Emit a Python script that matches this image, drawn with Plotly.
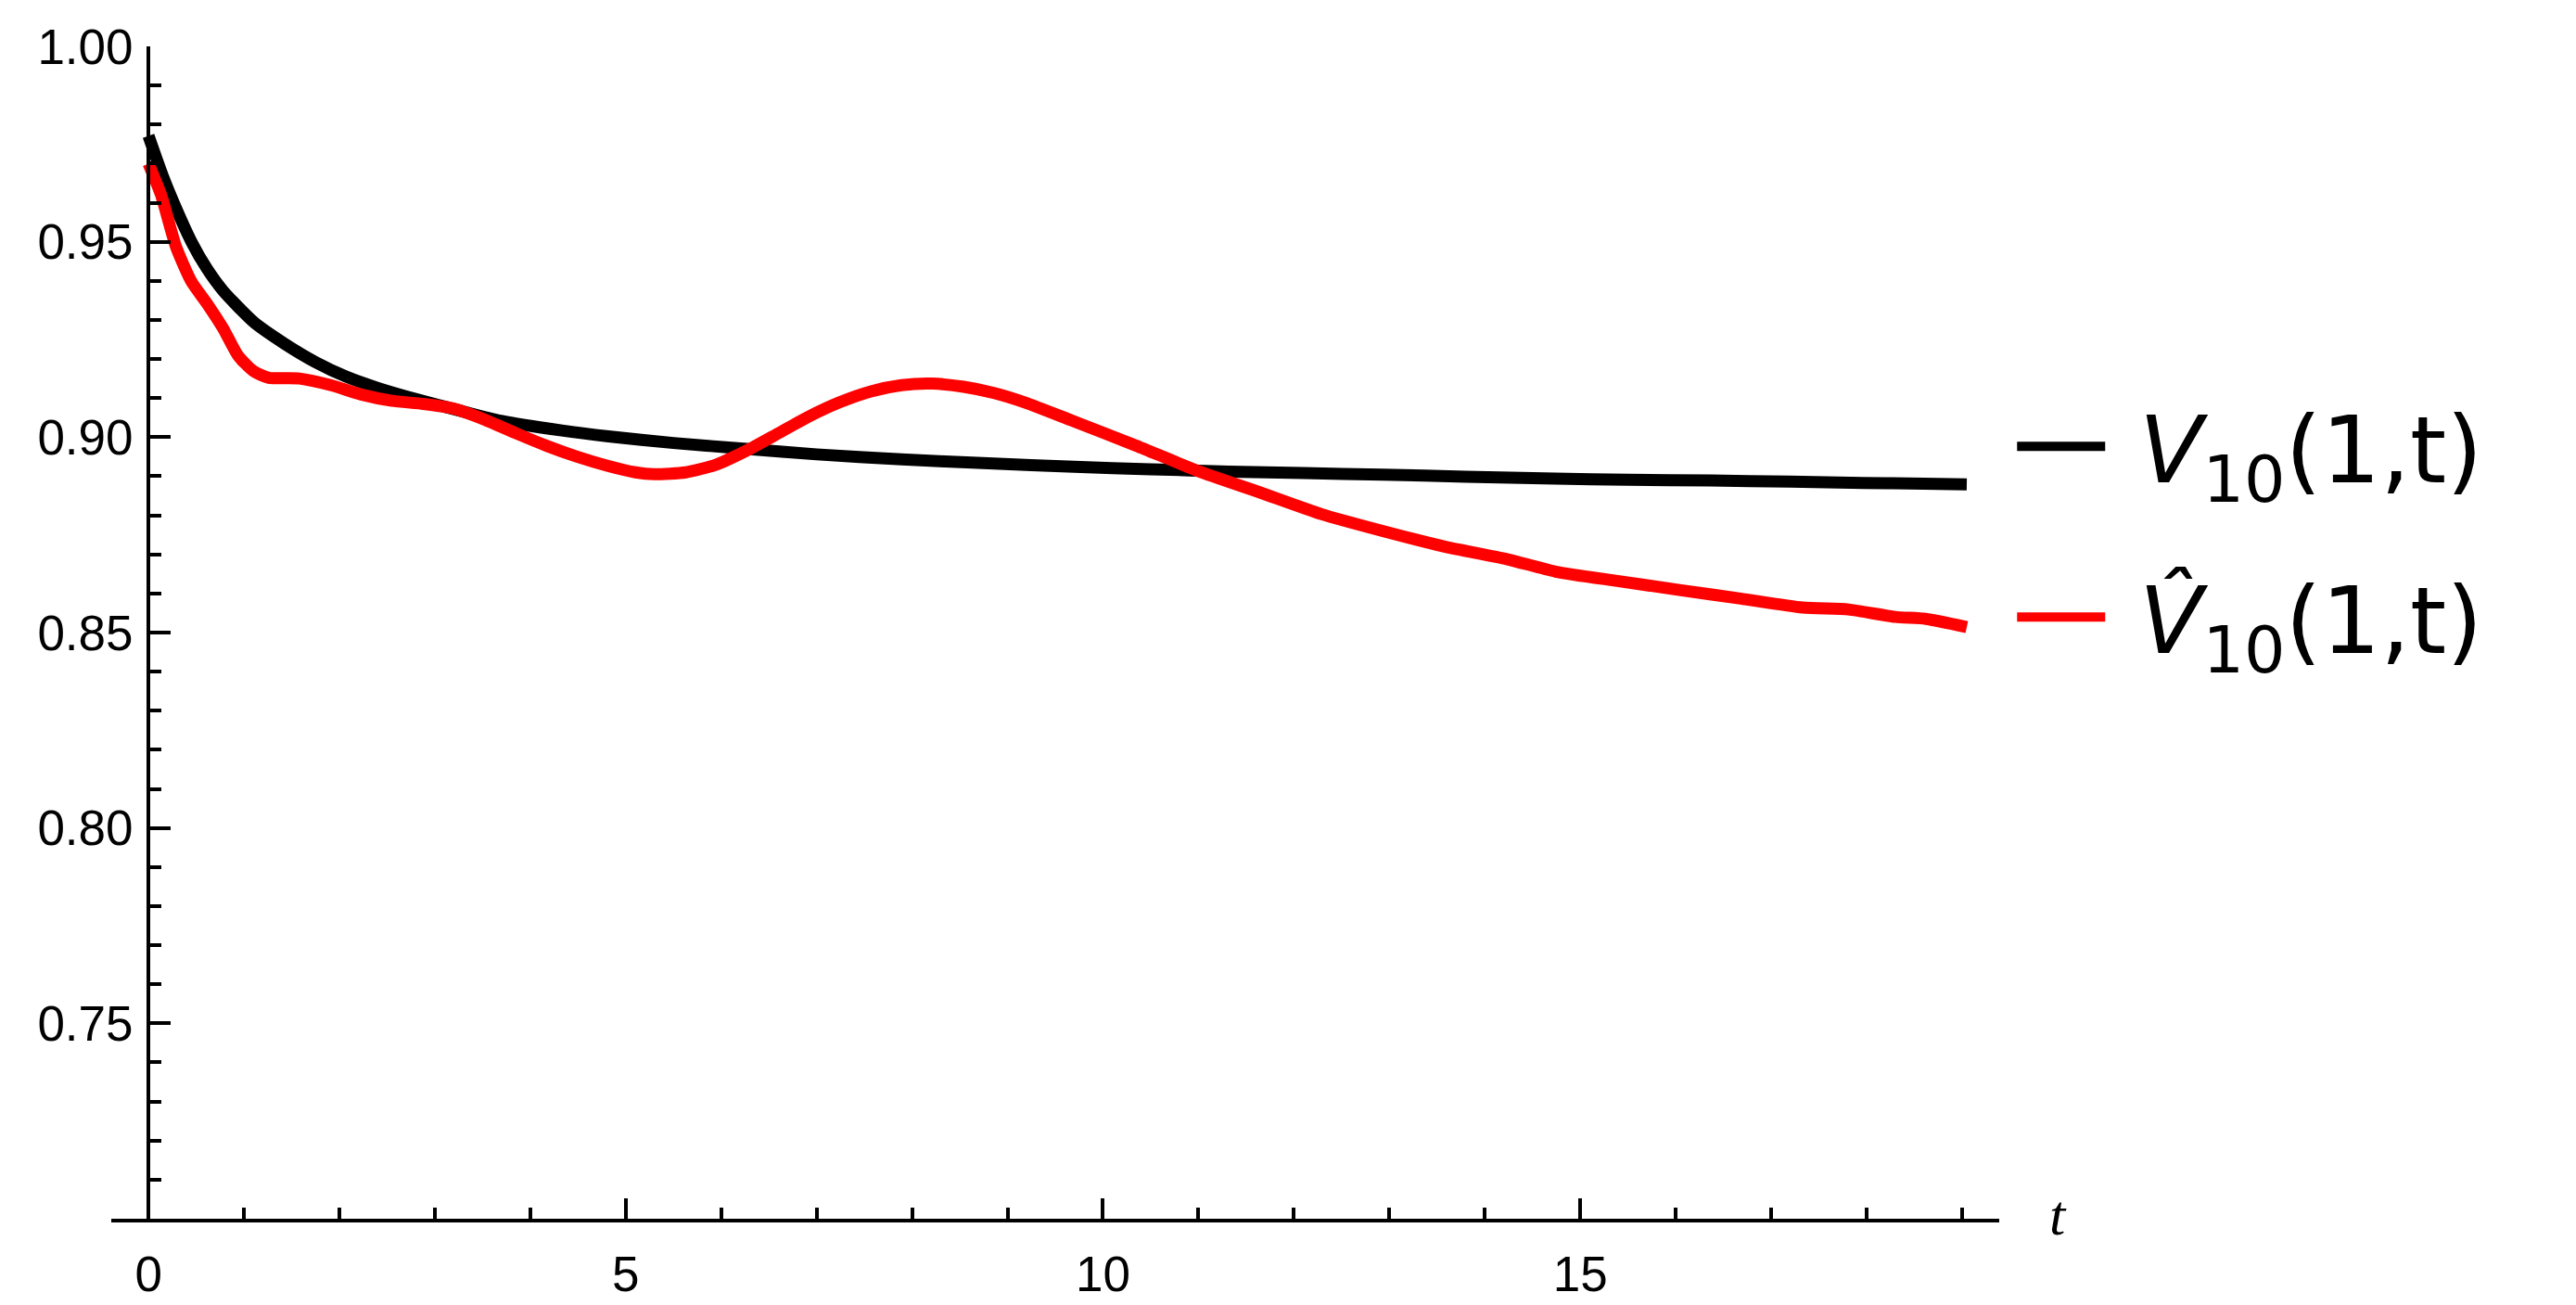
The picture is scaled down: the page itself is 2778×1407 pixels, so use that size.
import plotly.graph_objects as go

# ---- data ----
t_exact = [0.0, 0.15, 0.29, 0.45, 0.61, 0.78, 1.10, 1.42, 1.75, 2.07, 2.39, 2.72, 3.04, 3.69,
           4.33, 4.82, 5.5, 6.27, 7.0, 7.89, 8.8, 9.70, 10.5, 11.32, 12.1, 12.93, 13.8, 14.74,
           15.5, 16.36, 17.2, 17.97, 18.6, 19.05]
v_exact = [0.9771, 0.9668, 0.9585, 0.9500, 0.9432, 0.9375, 0.9295, 0.9240, 0.9192, 0.9155,
           0.9127, 0.9103, 0.9082, 0.9042, 0.9017, 0.9002, 0.8985, 0.8970, 0.8956, 0.8943,
           0.8933, 0.8924, 0.8918, 0.8912, 0.8908, 0.8904, 0.8899, 0.8894, 0.8891, 0.8889,
           0.8886, 0.8883, 0.8881, 0.8879]

t_approx = [0.0, 0.13, 0.29, 0.45, 0.61, 0.78, 0.94, 1.10, 1.26, 1.58, 1.91, 2.23, 2.55, 2.88,
            3.20, 3.52, 3.85, 4.17, 4.49, 4.82, 5.10, 5.30, 5.63, 5.95, 6.27, 6.60, 6.92, 7.24,
            7.57, 7.89, 8.21, 8.54, 8.86, 9.18, 9.67, 10.35, 10.99, 11.64, 12.29, 12.93, 13.58,
            14.23, 14.74, 15.39, 16.04, 16.68, 17.33, 17.81, 18.30, 18.62, 19.05]
v_approx = [0.9700, 0.9621, 0.9486, 0.9398, 0.9343, 0.9279, 0.9208, 0.9169, 0.9152, 0.9150,
            0.9133, 0.9109, 0.9093, 0.9085, 0.9073, 0.9045, 0.9010, 0.8978, 0.8950, 0.8926,
            0.8910, 0.8905, 0.8910, 0.8930, 0.8966, 0.9010, 0.9053, 0.9089, 0.9117, 0.9133,
            0.9137, 0.9129, 0.9113, 0.9089, 0.9043, 0.8978, 0.8914, 0.8859, 0.8803, 0.8760,
            0.8720, 0.8688, 0.8656, 0.8632, 0.8609, 0.8587, 0.8564, 0.8559, 0.8540, 0.8535,
            0.8514]

x_ticks = [0, 5, 10, 15]
y_ticks = [0.75, 0.80, 0.85, 0.90, 0.95, 1.00]
y_tick_text = ["0.75", "0.80", "0.85", "0.90", "0.95", "1.00"]
series_names = ["&nbsp;<i>V</i><sub>10</sub>(1,t)", "&nbsp;<i>V\u0302</i><sub>10</sub>(1,t)"]
series_colors = ["#000000", "#ff0000"]

X_RANGE = [-0.39, 19.39]
Y_RANGE = [0.70, 1.00]
FONT = "Arial, Liberation Sans, sans-serif"
LEGEND_FONT = "DejaVu Sans, Verdana, sans-serif"

fig = go.Figure()
for name, xs, ys, col, grp in [
    (series_names[0], t_exact, v_exact, series_colors[0], "a"),
    (series_names[1], t_approx, v_approx, series_colors[1], "b"),
]:
    fig.add_trace(go.Scatter(x=xs, y=ys, mode="lines", name=name, legendgroup=grp,
                             line=dict(color=col, width=13, shape="spline", smoothing=0.6)))

ypos = (0 - X_RANGE[0]) / (X_RANGE[1] - X_RANGE[0])

fig.update_layout(
    width=2778, height=1407,
    margin=dict(l=112, r=630, t=42, b=78),
    plot_bgcolor="white", paper_bgcolor="white",
    font=dict(family=FONT, size=53, color="black"),
    showlegend=True,
    legend=dict(x=1.007, y=0.586, xanchor="left", yanchor="middle",
                font=dict(family=LEGEND_FONT, size=100, color="black"),
                itemwidth=95, tracegroupgap=51, bgcolor="rgba(0,0,0,0)"),
    xaxis=dict(range=X_RANGE, showgrid=False, zeroline=False,
               showline=True, linecolor="black", linewidth=4,
               tickmode="array", tickvals=x_ticks, ticks="inside", ticklen=22,
               tickwidth=4, tickcolor="black",
               minor=dict(dtick=1, tick0=0, ticks="inside", ticklen=12, tickwidth=4,
                          tickcolor="black", showgrid=False),
               tickfont=dict(family=FONT, size=53), ticklabelstandoff=10),
    yaxis=dict(range=Y_RANGE, showgrid=False, zeroline=False, anchor="free",
               position=ypos, showline=True, linecolor="black", linewidth=4,
               tickmode="array", tickvals=y_ticks, ticktext=y_tick_text,
               ticks="inside", ticklen=22, tickwidth=4, tickcolor="black",
               minor=dict(dtick=0.01, tick0=0.70, ticks="inside", ticklen=12, tickwidth=4,
                          tickcolor="black", showgrid=False),
               tickfont=dict(family=FONT, size=53), ticklabelstandoff=4),
)

fig.add_annotation(text="<i>t</i>", xref="paper", yref="paper", x=1.0255, y=0.003,
                   xanchor="left", yanchor="middle", showarrow=False,
                   font=dict(family="Liberation Serif, Times New Roman, serif", size=62,
                             color="black"))

fig.write_html("out.html")
